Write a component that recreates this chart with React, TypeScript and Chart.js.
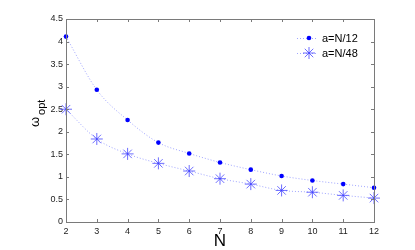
import React, { useEffect, useRef } from "react";
import { Chart, registerables } from "chart.js";

Chart.register(...registerables);

const nValues = [2, 3, 4, 5, 6, 7, 8, 9, 10, 11, 12];
const seriesN12 = [4.11, 2.93, 2.26, 1.76, 1.52, 1.32, 1.16, 1.02, 0.92, 0.84, 0.76];
const seriesN48 = [2.5, 1.84, 1.51, 1.3, 1.13, 0.96, 0.84, 0.7, 0.66, 0.59, 0.53];
const legendLabels = ["a=N/12", "a=N/48"];
const yTicks = [0, 0.5, 1, 1.5, 2, 2.5, 3, 3.5, 4, 4.5];

const FONT = "'Liberation Sans', Arial, sans-serif";
const DOT_COLOR = "#0000ff";
const STAR_COLOR = "rgba(60,60,255,0.75)";
const LINE_COLOR = "rgba(150,155,255,0.9)";

const framePlugin = {
  id: "frame",
  afterDraw(chart: any) {
    const ctx = chart.ctx;
    const { left, right, top, bottom } = chart.chartArea;
    const xs = chart.scales.x;
    const ys = chart.scales.y;
    ctx.save();
    ctx.strokeStyle = "#7a7a7a";
    ctx.lineWidth = 1;
    ctx.strokeRect(Math.round(left) + 0.5, Math.round(top) + 0.5, Math.round(right - left), Math.round(bottom - top));
    ctx.beginPath();
    for (const n of nValues) {
      const x = Math.round(xs.getPixelForValue(n)) + 0.5;
      ctx.moveTo(x, bottom);
      ctx.lineTo(x, bottom - 3);
      ctx.moveTo(x, top);
      ctx.lineTo(x, top + 3);
    }
    for (const v of yTicks) {
      const y = Math.round(ys.getPixelForValue(v)) + 0.5;
      ctx.moveTo(left, y);
      ctx.lineTo(left + 3, y);
      ctx.moveTo(right, y);
      ctx.lineTo(right - 3, y);
    }
    ctx.stroke();

    // axis titles
    ctx.fillStyle = "#000";
    ctx.font = `17px ${FONT}`;
    ctx.textAlign = "center";
    ctx.textBaseline = "middle";
    ctx.fillText("N", (left + right) / 2, 241);

    ctx.translate(35, 120);
    ctx.rotate(-Math.PI / 2);
    ctx.font = `13px ${FONT}`;
    ctx.textAlign = "left";
    ctx.textBaseline = "middle";
    const wW = ctx.measureText("ω").width;
    ctx.fillText("ω", -wW / 2 - 2, 0);
    ctx.font = `11px ${FONT}`;
    ctx.fillText("opt", wW / 2, 7);
    ctx.restore();

    // legend
    ctx.save();
    const lx0 = 297, lx1 = 318, mx = 309, tx = 322;
    const rows = [38, 53];
    rows.forEach((y, i) => {
      ctx.strokeStyle = LINE_COLOR;
      ctx.setLineDash([1, 2]);
      ctx.lineWidth = 1;
      ctx.beginPath();
      ctx.moveTo(lx0, y + 0.5);
      ctx.lineTo(lx1, y + 0.5);
      ctx.stroke();
      ctx.setLineDash([]);
      if (i === 0) {
        ctx.fillStyle = DOT_COLOR;
        ctx.beginPath();
        ctx.arc(mx, y, 2.3, 0, Math.PI * 2);
        ctx.fill();
      } else {
        ctx.strokeStyle = STAR_COLOR;
        ctx.beginPath();
        const r = 6;
        for (let k = 0; k < 4; k++) {
          const a = (k * Math.PI) / 4;
          ctx.moveTo(mx - r * Math.cos(a), y - r * Math.sin(a));
          ctx.lineTo(mx + r * Math.cos(a), y + r * Math.sin(a));
        }
        ctx.stroke();
      }
      ctx.fillStyle = "#000";
      ctx.font = `11px ${FONT}`;
      ctx.textAlign = "left";
      ctx.textBaseline = "middle";
      ctx.fillText(legendLabels[i], tx, y + 0.5);
    });
    ctx.restore();
  },
};

export default function App() {
  const ref = useRef<HTMLCanvasElement>(null);
  useEffect(() => {
    if (!ref.current) return;
    const chart = new Chart(ref.current, {
      type: "line",
      data: {
        datasets: [
          {
            label: legendLabels[0],
            data: nValues.map((n, i) => ({ x: n, y: seriesN12[i] })),
            borderColor: LINE_COLOR,
            borderWidth: 1,
            borderDash: [1, 2],
            cubicInterpolationMode: "monotone",
            pointStyle: "circle",
            pointRadius: 2.3,
            pointBackgroundColor: DOT_COLOR,
            pointBorderColor: DOT_COLOR,
            pointBorderWidth: 0,
            fill: false,
          },
          {
            label: legendLabels[1],
            data: nValues.map((n, i) => ({ x: n, y: seriesN48[i] })),
            borderColor: LINE_COLOR,
            borderWidth: 1,
            borderDash: [1, 2],
            cubicInterpolationMode: "monotone",
            pointStyle: "star",
            pointRadius: 6,
            pointBorderColor: STAR_COLOR,
            pointBackgroundColor: STAR_COLOR,
            pointBorderWidth: 1,
            fill: false,
          },
        ],
      },
      options: {
        animation: false,
        responsive: false,
        maintainAspectRatio: false,
        clip: false,
        layout: { padding: { left: 0, right: 41, top: 19, bottom: 0 } },
        plugins: { legend: { display: false }, tooltip: { enabled: false } },
        scales: {
          x: {
            type: "linear",
            min: 2,
            max: 12,
            afterFit: (s: any) => { s.height = 28; },
            afterBuildTicks: (s: any) => { s.ticks = nValues.map((v) => ({ value: v })); },
            grid: { display: false, drawTicks: false },
            border: { display: false },
            ticks: {
              color: "#222",
              font: { family: FONT, size: 9 },
              padding: 4,
              maxRotation: 0,
              autoSkip: false,
              callback: (v: any) => String(v),
            },
          },
          y: {
            type: "linear",
            min: 0,
            max: 4.5,
            afterFit: (s: any) => { s.width = 66; },
            afterBuildTicks: (s: any) => { s.ticks = yTicks.map((v) => ({ value: v })); },
            grid: { display: false, drawTicks: false },
            border: { display: false },
            ticks: {
              color: "#222",
              font: { family: FONT, size: 9 },
              padding: 3,
              autoSkip: false,
              callback: (v: any) => String(v),
            },
          },
        },
      },
      plugins: [framePlugin],
    } as any);
    return () => chart.destroy();
  }, []);
  return (
    <div style={{ position: "absolute", left: 0, top: 0, width: 415, height: 250, background: "#fff" }}>
      <canvas ref={ref} width={415} height={250} style={{ width: 415, height: 250 }} />
    </div>
  );
}
